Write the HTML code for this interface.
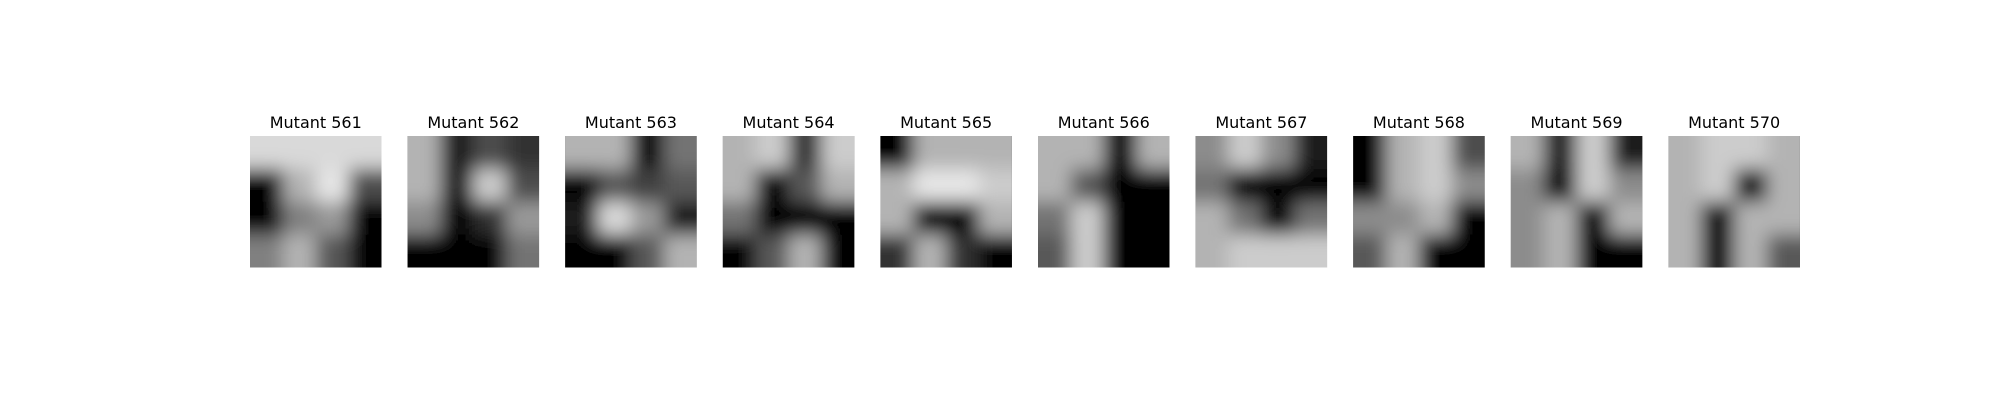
<!DOCTYPE html>
<html><head><meta charset="utf-8"><style>
body{margin:0;background:#fff;width:2000px;height:400px;overflow:hidden}
</style></head><body>
<svg id="fig" width="2000" height="400" xmlns="http://www.w3.org/2000/svg">
<defs><filter id="bl" x="-30%" y="-30%" width="160%" height="160%"><feGaussianBlur stdDeviation="9"/></filter></defs>
</svg>
<script>
const labels=["Mutant 561","Mutant 562","Mutant 563","Mutant 564","Mutant 565","Mutant 566","Mutant 567","Mutant 568","Mutant 569","Mutant 570"];
const grids=[
[[.85,.85,.85,.85],[0,.7,.9,.3],[0,.5,.6,0],[.5,.7,.35,0]],
[[.7,.1,.3,.2],[.7,.1,.8,.3],[.55,0,.2,.6],[0,0,0,.45]],
[[.7,.7,0,.45],[0,.35,.25,.35],[.1,.85,.6,.1],[0,0,.35,.7]],
[[.7,.8,.2,.8],[.7,0,.35,.7],[.45,0,0,0],[0,.35,.7,0]],
[[0,.7,.7,.7],[.7,.9,.9,.8],[.7,0,0,.7],[.2,.7,.2,0]],
[[.7,.7,0,.7],[.7,.35,0,0],[.45,.8,0,0],[.35,.8,0,0]],
[[.55,.8,.55,.1],[.45,0,0,0],[.7,.45,0,.45],[.7,.8,.8,.8]],
[[0,.7,.8,.3],[0,.7,.8,.55],[.55,.55,.7,0],[.35,.7,0,0]],
[[.7,.1,.8,.1],[.55,0,.8,.55],[.55,.7,0,.7],[.55,.7,0,0]],
[[.7,.8,.8,.7],[.7,.8,0,.7],[.7,0,.7,.7],[.7,0,.7,.35]]
];
const svg=document.getElementById('fig');const NS='http://www.w3.org/2000/svg';
const X0=250,PITCH=157.6,Y0=136,S=131.5;
labels.forEach((lab,i)=>{
  const x=X0+i*PITCH;
  const g=document.createElementNS(NS,'g');
  
  
  const cp=document.createElementNS(NS,'clipPath');cp.setAttribute('id','c'+i);
  const cr=document.createElementNS(NS,'rect');cr.setAttribute('x',x);cr.setAttribute('y',Y0);cr.setAttribute('width',S);cr.setAttribute('height',S);
  cp.appendChild(cr);svg.querySelector('defs').appendChild(cp);
  const img=document.createElementNS(NS,'g');img.setAttribute('clip-path','url(#c'+i+')');
  
  
  const bg=document.createElementNS(NS,'rect');bg.setAttribute('x',x);bg.setAttribute('y',Y0);bg.setAttribute('width',S);bg.setAttribute('height',S);bg.setAttribute('fill','#000');img.appendChild(bg);
  const bb=document.createElementNS(NS,'g');bb.setAttribute('filter','url(#bl)');
  const c=S/4;
  grids[i].forEach((row,r)=>row.forEach((v,k)=>{
    const rc=document.createElementNS(NS,'rect');
    let rx=x+k*c,ry=Y0+r*c,w=c,h=c;
    if(k==0){rx-=25;w+=25;} if(k==3){w+=25;}
    if(r==0){ry-=25;h+=25;} if(r==3){h+=25;}
    rc.setAttribute('x',rx);rc.setAttribute('y',ry);rc.setAttribute('width',w+0.5);rc.setAttribute('height',h+0.5);
    const gv=Math.round(v*255);rc.setAttribute('fill',`rgb(${gv},${gv},${gv})`);
    
    
    bb.appendChild(rc);
  }));
  img.appendChild(bb);g.appendChild(img);
  const t=document.createElementNS(NS,'text');
  t.setAttribute('x',x+S/2);t.setAttribute('y',128);t.setAttribute('text-anchor','middle');
  t.setAttribute('font-family','DejaVu Sans, Liberation Sans, sans-serif');t.setAttribute('font-size','16');
  t.textContent=lab;
  
  
  g.appendChild(t);svg.appendChild(g);
});
</script>
</body></html>
